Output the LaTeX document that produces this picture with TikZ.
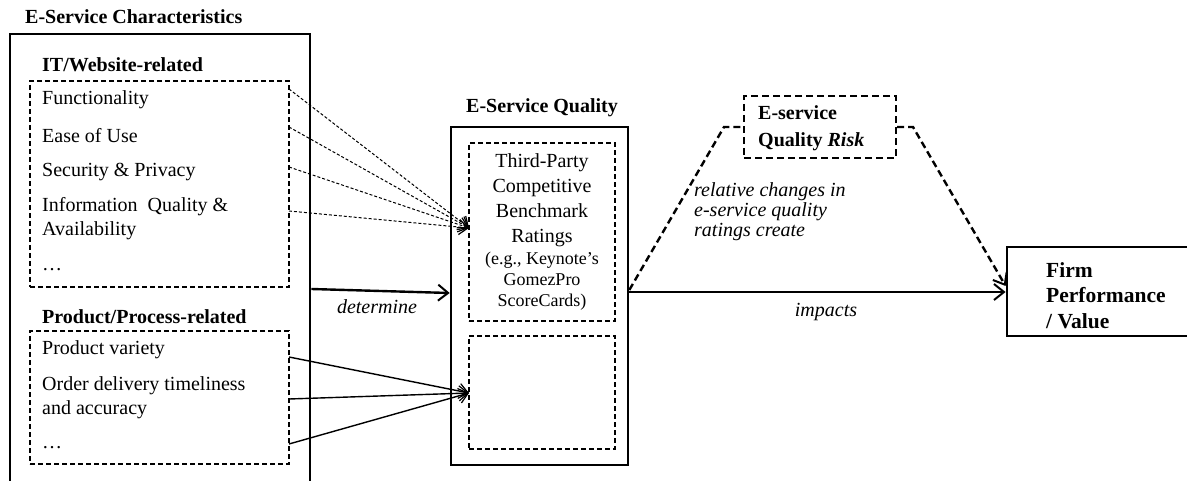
\documentclass[tikz,border=0pt]{standalone}
\usepackage{fontspec}
\setmainfont{Liberation Serif}
\usetikzlibrary{arrows.meta}
\begin{document}
\begin{tikzpicture}[x=1pt,y=-1pt,
  every node/.style={inner sep=0pt},
  txt/.style={anchor=west, align=left, font=\fontsize{20}{24}\selectfont},
  hdr/.style={anchor=west, font=\fontsize{20}{24}\selectfont\bfseries},
  bigbox/.style={draw, line width=2.8pt},
  dbox/.style={draw, line width=1.1pt, dash pattern=on 5pt off 3pt},
  tip/.style={-{Straight Barb[length=9pt,width=15pt,line width=1.2pt]}},
  dconn/.style={tip, line width=1pt, dash pattern=on 3pt off 2pt},
  sconn/.style={tip, line width=1.4pt},
  mainarr/.style={-{Straight Barb[length=10pt,width=16pt,line width=2pt]}, line width=2.4pt},
  riskline/.style={line width=2.4pt, dash pattern=on 7pt off 4pt},
  lab/.style={font=\fontsize{20}{20}\selectfont\itshape}
]
\useasboundingbox (0,0) rectangle (1187,481);

% left column
\node[hdr] (title) at (25,17) {E-Service Characteristics};
\node[bigbox, minimum width=300pt, minimum height=460pt] (chars) at (160,264) {};
\node[hdr] (ith) at (42,65) {IT/Website-related};
\node[dbox, minimum width=259pt, minimum height=206pt] (it) at (159.5,184) {};
\node[txt] (f1) at (42,100) {Functionality};
\node[txt] (f2) at (42,136) {Ease of Use};
\node[txt] (f3) at (42,172) {Security \& Privacy};
\node[txt] (f4) at (42,219) {Information\ \ Quality \&\\Availability};
\node[txt] (f5) at (42,270) {\dots};

\node[hdr] (pph) at (42,317) {Product/Process-related};
\node[dbox, minimum width=259pt, minimum height=133pt] (pp) at (159.5,397.5) {};
\node[txt] (p1) at (42,350) {Product variety};
\node[txt] (p2) at (42,398) {Order delivery timeliness\\and accuracy};
\node[txt] (p3) at (42,448) {\dots};

% quality column
\node[font=\fontsize{20}{24}\selectfont\bfseries] (qt) at (542,108) {E-Service Quality};
\node[draw, line width=2.6pt, minimum width=177pt, minimum height=338pt] (qual) at (539.5,296) {};
\node[dbox, minimum width=146pt, minimum height=178pt] (qa) at (542,232) {};
\node[dbox, minimum width=146pt, minimum height=113pt] (qb) at (542,392.5) {};
\node[align=center, font=\fontsize{20}{25}\selectfont] (qat1) at (542,200) {Third-Party\\Competitive\\Benchmark\\Ratings};
\node[align=center, font=\fontsize{18}{21}\selectfont] (qat2) at (542,281) {(e.g., Keynote’s\\GomezPro\\ScoreCards)};

% risk
\node[draw, riskline, minimum width=152pt, minimum height=62pt] (risk) at (820,127) {};
\node[anchor=west, align=left, font=\fontsize{20}{27}\selectfont\bfseries] (riskt) at (758,128.5) {E-service\\Quality \textit{Risk}};

% firm
\node[draw, line width=2.8pt, minimum width=190pt, minimum height=89pt] (firm) at (1102,291.5) {};
\node[anchor=west, align=left, font=\fontsize{21.5}{25.5}\selectfont\bfseries] (firmt) at (1046,295.5) {Firm\\Performance\\/ Value};

% coordinates
\coordinate (ta) at (469,228);
\coordinate (tb) at (469,393);
\coordinate (s1) at (289,89);
\coordinate (s2) at (289,127);
\coordinate (s3) at (289,167);
\coordinate (s4) at (289,211);
\coordinate (u1) at (289,357);
\coordinate (u2) at (289,399);
\coordinate (u3) at (289,444);

\draw[dconn] (s1) -- (ta);
\draw[dconn] (s2) -- (ta);
\draw[dconn] (s3) -- (ta);
\draw[dconn] (s4) -- (ta);
\draw[sconn] (u1) -- (tb);
\draw[sconn] (u2) -- (tb);
\draw[sconn] (u3) -- (tb);

\coordinate (d0) at (chars.east |- 0,289);
\coordinate (d1) at (qual.west |- 0,293);
\draw[mainarr] (d0) -- (d1);
\node[lab] (detl) at (377,307) {determine};

\coordinate (i0) at (qual.east |- 0,292);
\coordinate (i1) at (firm.west |- 0,292);
\draw[mainarr] (i0) -- (i1);
\node[lab] (impl) at (826,312) {impacts};

\coordinate (r0) at (qual.east |- 0,290);
\coordinate (r1) at (724,127);
\coordinate (r2) at (913,127);
\coordinate (r3) at (firm.west |- 0,286);
\draw[riskline] (r0) -- (r1) -- (risk.west);
\draw[riskline, -{Straight Barb[length=10pt,width=16pt,line width=2pt]}] (risk.east) -- (r2) -- (r3);
\node[lab, anchor=west, align=left] (rell) at (694,212) {relative changes in\\e-service quality\\ratings create};
\end{tikzpicture}
\end{document}
